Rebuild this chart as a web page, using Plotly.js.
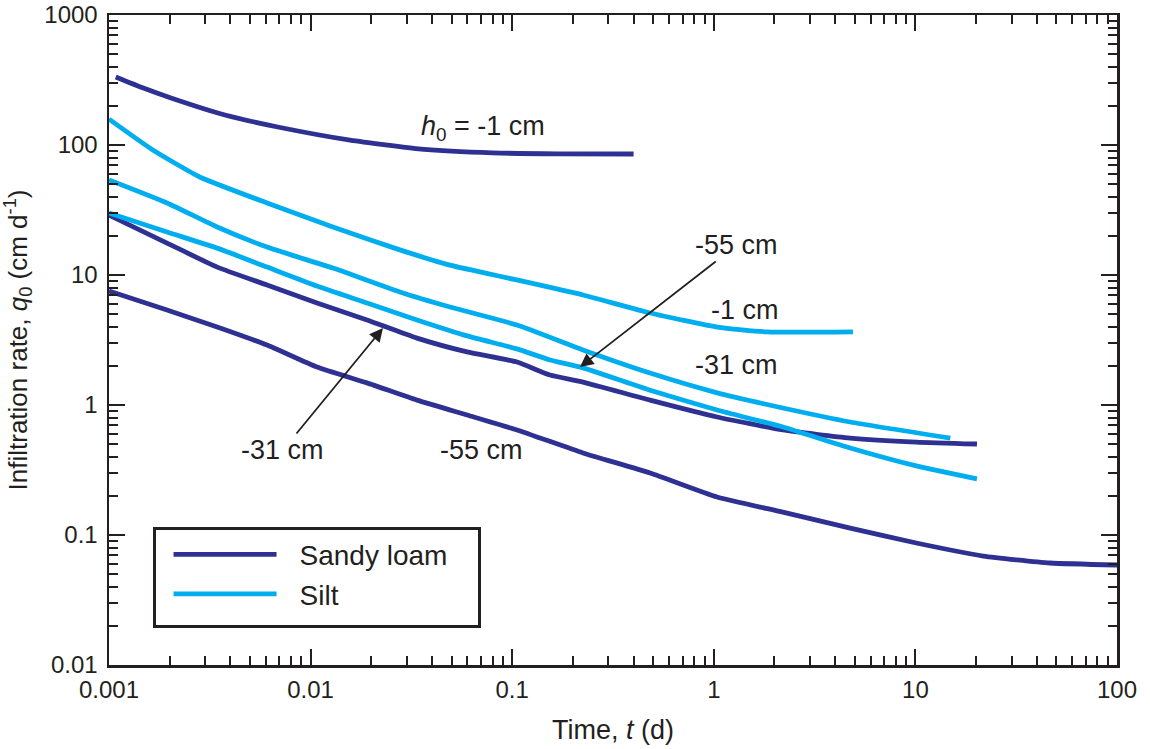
<!DOCTYPE html>
<html><head><meta charset="utf-8">
<script src="https://cdn.plot.ly/plotly-3.0.1.min.js"></script>
<style>html,body{margin:0;padding:0;background:#fff}</style>
</head><body>
<div id="chart" style="width:1150px;height:749px"></div>
<script>
// ---- data (time t in days, infiltration rate q0 in cm/d) ----
const sandyM1_t = [0.00108, 0.00148, 0.00203, 0.00376, 0.00697, 0.0157, 0.0353, 0.080, 0.17, 0.40];
const sandyM1_q = [333, 274, 230, 170, 137, 109, 93, 87, 85.5, 85.3];

const sandyM31_t = [0.001, 0.00194, 0.00344, 0.00608, 0.01076, 0.01905, 0.0337, 0.0597, 0.1056, 0.154, 0.2245, 0.483, 1.038, 2.20, 4.75, 10.1, 20.2];
const sandyM31_q = [28.9, 17.6, 11.5, 8.38, 6.09, 4.51, 3.27, 2.56, 2.14, 1.70, 1.50, 1.09, 0.809, 0.643, 0.557, 0.519, 0.501];

const sandyM55_t = [0.001, 0.00194, 0.00344, 0.00608, 0.01076, 0.01905, 0.0337, 0.0597, 0.1056, 0.2245, 0.483, 1.038, 2.20, 4.75, 10.1, 21.7, 46.6, 100];
const sandyM55_q = [7.53, 5.38, 3.98, 2.89, 1.96, 1.48, 1.09, 0.838, 0.643, 0.428, 0.300, 0.196, 0.150, 0.113, 0.0868, 0.0689, 0.0609, 0.0588];

const siltM1_t = [0.001, 0.00165, 0.00282, 0.00608, 0.0129, 0.0277, 0.0491, 0.1056, 0.2245, 0.483, 1.04, 1.84, 4.9];
const siltM1_q = [158, 91.5, 56.7, 35.8, 23.4, 15.6, 11.9, 9.16, 7.02, 5.10, 3.98, 3.65, 3.65];

const siltM31_t = [0.001, 0.00194, 0.00344, 0.00608, 0.0129, 0.0277, 0.0491, 0.1056, 0.2245, 0.483, 1.04, 2.2, 4.75, 14.9];
const siltM31_q = [53.8, 35.8, 23.4, 16.4, 11.3, 7.40, 5.67, 4.12, 2.65, 1.76, 1.24, 0.948, 0.74, 0.557];

const siltM55_t = [0.001, 0.00194, 0.00344, 0.00608, 0.01076, 0.01905, 0.0337, 0.0597, 0.1056, 0.154, 0.2245, 0.483, 1.038, 2.20, 4.75, 10.1, 20.2];
const siltM55_q = [30.0, 21.4, 16.1, 11.5, 8.22, 6.09, 4.51, 3.40, 2.70, 2.22, 1.93, 1.30, 0.915, 0.677, 0.467, 0.340, 0.270];

const xTickVals = [0.001, 0.01, 0.1, 1, 10, 100];
const xTickText = ['0.001', '0.01', '0.1', '1', '10', '100'];
const yTickVals = [0.01, 0.1, 1, 10, 100, 1000];
const yTickText = ['0.01', '0.1', '1', '10', '100', '1000'];

const legendNames = ['Sandy loam', 'Silt'];

// ---- styling ----
const DARK = '#2e3192';
const LIGHT = '#00aeef';
const INK = '#231f20';
const FONT = 'Liberation Sans, Arial, Helvetica, sans-serif';

function minorVals(lo, hi) {
  const v = [];
  for (let e = lo; e < hi; e++) for (let m = 2; m <= 9; m++) v.push(m * Math.pow(10, e));
  return v;
}

function tr(x, y, color, name, group, show) {
  return {x: x, y: y, type: 'scatter', mode: 'lines', name: name, legendgroup: group,
    showlegend: show, line: {color: color, width: 4.8, shape: 'spline', smoothing: 0.5}, hoverinfo: 'x+y'};
}

const data = [
  tr(sandyM1_t, sandyM1_q, DARK, legendNames[0], 'sandy', true),
  tr(sandyM31_t, sandyM31_q, DARK, legendNames[0], 'sandy', false),
  tr(sandyM55_t, sandyM55_q, DARK, legendNames[0], 'sandy', false),
  tr(siltM1_t, siltM1_q, LIGHT, legendNames[1], 'silt', true),
  tr(siltM31_t, siltM31_q, LIGHT, legendNames[1], 'silt', false),
  tr(siltM55_t, siltM55_q, LIGHT, legendNames[1], 'silt', false)
];

const axisCommon = {
  type: 'log', showgrid: false, zeroline: false,
  showline: true, linecolor: INK, linewidth: 2.5, mirror: 'ticks',
  ticks: 'inside', ticklen: 16, tickwidth: 2, tickcolor: INK,
  tickfont: {family: FONT, size: 24, color: INK}
};

const ANN_FONT = {family: FONT, size: 27, color: INK};
const txt = (x, y, t) => ({x: x, y: y, xref: 'x', yref: 'y', text: t, showarrow: false,
  font: ANN_FONT, xanchor: 'center', yanchor: 'middle'});
const arrTxt = (x, y, ax, ay, t) => ({x: x, y: y, xref: 'x', yref: 'y', text: t, showarrow: true,
  ax: ax, ay: ay, arrowhead: 2, arrowsize: 1.5, arrowwidth: 1.8, arrowcolor: INK, standoff: 0,
  font: ANN_FONT});

const layout = {
  width: 1150, height: 749,
  margin: {l: 109, r: 33, t: 15, b: 84},
  paper_bgcolor: '#fff', plot_bgcolor: '#fff',
  font: {family: FONT, color: INK},
  xaxis: Object.assign({}, axisCommon, {
    range: [-3, 2], tickmode: 'array', tickvals: xTickVals, ticktext: xTickText,
    ticklabelstandoff: 2,
    minor: {ticks: 'inside', ticklen: 9, tickwidth: 2, tickcolor: INK, tickmode: 'array', tickvals: minorVals(-3, 2)},
    title: {text: 'Time, <i>t</i> (d)', font: {family: FONT, size: 27, color: INK}, standoff: 18}
  }),
  yaxis: Object.assign({}, axisCommon, {
    range: [-2, 3], tickmode: 'array', tickvals: yTickVals, ticktext: yTickText,
    ticklabelstandoff: 4,
    minor: {ticks: 'inside', ticklen: 9, tickwidth: 2, tickcolor: INK, tickmode: 'array', tickvals: minorVals(-2, 3)},
    title: {text: 'Infiltration rate, <i>q</i><sub>0</sub> (cm d<sup>-1</sup>)', font: {family: FONT, size: 26, color: INK}, standoff: 10}
  }),
  showlegend: true,
  legend: {x: 0.0437, y: 0.212, xanchor: 'left', yanchor: 'top',
    bgcolor: '#fff', bordercolor: INK, borderwidth: 2.5,
    font: {family: FONT, size: 28, color: INK}, itemwidth: 134, tracegroupgap: 0},
  annotations: [
    txt(-1.145, 2.131, '<i>h</i><sub>0</sub> = -1 cm'),
    txt(0.155, 0.731, '-1 cm'),
    txt(0.115, 0.308, '-31 cm'),
    txt(-1.150, -0.346, '-55 cm'),
    arrTxt(-0.664, 0.292, 157, -122, '-55 cm'),
    arrTxt(-1.641, 0.592, -100, 122, '-31 cm')
  ]
};

Plotly.newPlot('chart', data, layout, {displayModeBar: false, staticPlot: true}).then(function (gd) {
  // match the original key: longer sample lines and a wider box
  gd.querySelectorAll('.legend .legendlines path').forEach(function (p) { p.setAttribute('d', 'M18,0h103'); });
  const bg = gd.querySelector('.legend rect.bg');
  if (bg) { bg.setAttribute('width', '325'); bg.setAttribute('height', '98'); }
});
</script>
</body></html>
